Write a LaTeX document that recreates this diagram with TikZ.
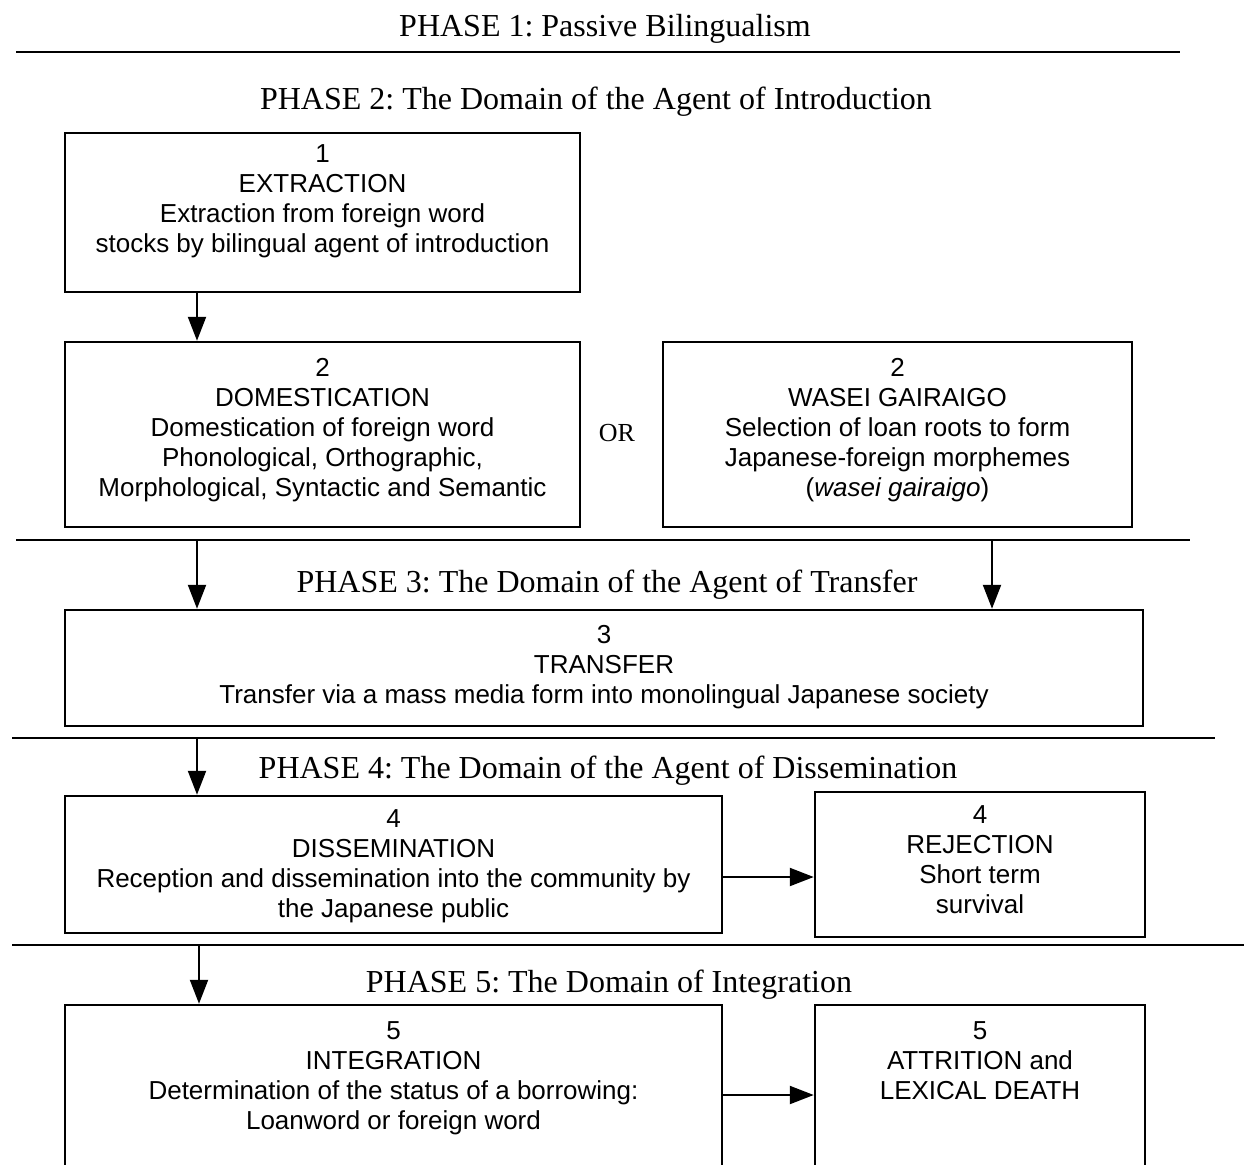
\documentclass[tikz,border=0pt]{standalone}
\usepackage{fontspec}
\setmainfont{Liberation Serif}
\setsansfont{Liberation Sans}
\usetikzlibrary{arrows.meta}
\frenchspacing
\begin{document}
\begin{tikzpicture}[x=1pt,y=-1pt,
  box/.style={draw, line width=2.5pt, inner sep=0pt, rectangle},
  btxt/.style={anchor=north, align=center, inner sep=0pt, font=\sffamily\fontsize{26}{30}\selectfont},
  phase/.style={anchor=base, inner sep=0pt, font=\fontsize{32}{36}\selectfont},
  ortxt/.style={anchor=base, inner sep=0pt, font=\fontsize{26}{30}\selectfont},
  rule/.style={line width=2.5pt},
  arr/.style={line width=2.2pt, -{Triangle[length=24pt,width=18pt]}}]
\useasboundingbox (0,0) rectangle (1244,1164);
\clip (0,0) rectangle (1244,1164);

% phase headings
\node[phase] (p1) at (605,37) {PHASE 1: Passive Bilingualism};
\node[phase] (p2) at (596,109) {PHASE 2: The Domain of the Agent of Introduction};
\node[phase] (p3) at (607,592) {PHASE 3: The Domain of the Agent of Transfer};
\node[phase] (p4) at (608,778) {PHASE 4: The Domain of the Agent of Dissemination};
\node[phase] (p5) at (609,992) {PHASE 5: The Domain of Integration};
\node[ortxt] (or) at (617,441) {OR};

% rules
\draw[rule] (16,52) -- (1180,52);
\draw[rule] (16,540) -- (1190,540);
\draw[rule] (12,738) -- (1215,738);
\draw[rule] (12,945) -- (1244,945);
\coordinate (l2) at (0,540);
\coordinate (l3) at (0,738);
\coordinate (l4) at (0,945);

% boxes
\node[box, minimum width=515pt, minimum height=159pt] (b1) at (322.5,212.5) {};
\node[box, minimum width=515pt, minimum height=185pt] (b2l) at (322.5,434.5) {};
\node[box, minimum width=469pt, minimum height=185pt] (b2r) at (897.5,434.5) {};
\node[box, minimum width=1078pt, minimum height=116pt] (b3) at (604,668) {};
\node[box, minimum width=657pt, minimum height=137pt] (b4l) at (393.5,864.5) {};
\node[box, minimum width=330pt, minimum height=145pt] (b4r) at (980,864.5) {};
\node[box, minimum width=657pt, minimum height=195pt] (b5l) at (393.5,1102.5) {};
\node[box, minimum width=330pt, minimum height=195pt] (b5r) at (980,1102.5) {};

% box texts
\node[btxt] (t1) at ([yshift=-13pt]b1.north) {1\\EXTRACTION\\Extraction from foreign word\\stocks by bilingual agent of introduction};
\node[btxt] (t2l) at ([yshift=-17pt]b2l.north) {2\\DOMESTICATION\\Domestication of foreign word\\Phonological, Orthographic,\\Morphological, Syntactic and Semantic};
\node[btxt] (t2r) at ([yshift=-17pt]b2r.north) {2\\WASEI GAIRAIGO\\Selection of loan roots to form\\Japanese-foreign morphemes\\(\textit{wasei gairaigo})};
\node[btxt] (t3) at ([yshift=-16pt]b3.north) {3\\TRANSFER\\Transfer via a mass media form into monolingual Japanese society};
\node[btxt] (t4l) at ([yshift=-15pt]b4l.north) {4\\DISSEMINATION\\Reception and dissemination into the community by\\the Japanese public};
\node[btxt] (t4r) at ([yshift=-15pt]b4r.north) {4\\REJECTION\\Short term\\survival};
\node[btxt] (t5l) at ([yshift=-18pt]b5l.north) {5\\INTEGRATION\\Determination of the status of a borrowing:\\Loanword or foreign word};
\node[btxt] (t5r) at ([yshift=-18pt]b5r.north) {5\\ATTRITION and\\LEXICAL DEATH};

% arrow columns
\coordinate (ca) at (197,0);
\coordinate (cb) at (992,0);
\coordinate (cc) at (199,0);
\coordinate (h4) at (0,877);
\coordinate (h5) at (0,1095);

\draw[arr] (b1.south -| ca) -- (b2l.north -| ca);
\draw[arr] (l2 -| ca) -- (b3.north -| ca);
\draw[arr] (l2 -| cb) -- (b3.north -| cb);
\draw[arr] (l3 -| ca) -- (b4l.north -| ca);
\draw[arr] (l4 -| cc) -- (b5l.north -| cc);
\draw[arr] (h4 -| b4l.east) -- (h4 -| b4r.west);
\draw[arr] (h5 -| b5l.east) -- (h5 -| b5r.west);
\end{tikzpicture}
\end{document}
